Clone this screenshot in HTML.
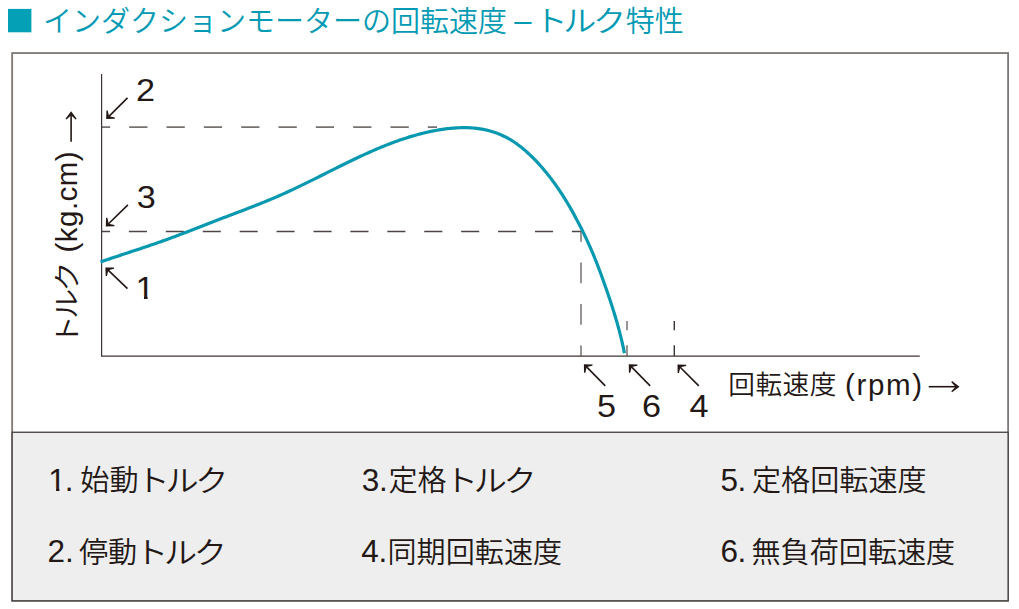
<!DOCTYPE html>
<html><head><meta charset="utf-8"><style>
html,body{margin:0;padding:0;background:#fff;}
body{width:1019px;height:609px;position:relative;overflow:hidden;}
svg{position:absolute;left:0;top:0;}
</style></head><body>
<svg width="1019" height="609" viewBox="0 0 1019 609">
<rect x="12.15" y="53.05" width="995.95" height="547.75" fill="#fff" stroke="#7d7876" stroke-width="1.8"/>
<rect x="12.15" y="432.25" width="995.95" height="168.55" fill="#eeeeee" stroke="#433d3b" stroke-width="1.3"/>
<line x1="101" y1="127.05" x2="437" y2="127.05" stroke="#77716f" stroke-width="1.8" stroke-dasharray="18.29 19.04" stroke-dashoffset="9.15"/>
<line x1="101" y1="231.5" x2="581" y2="231.5" stroke="#4d4543" stroke-width="1.3" stroke-dasharray="18.09 18.83" stroke-dashoffset="9.05"/>
<line x1="581" y1="231.5" x2="581" y2="356" stroke="#6e6866" stroke-width="1.4" stroke-dasharray="20.75 20.75" stroke-dashoffset="10.38"/>
<line x1="627" y1="321" x2="627" y2="330.3" stroke="#6e6866" stroke-width="1.4"/>
<line x1="627" y1="345.3" x2="627" y2="356" stroke="#6e6866" stroke-width="1.4"/>
<line x1="674.3" y1="321" x2="674.3" y2="330.3" stroke="#3a3432" stroke-width="1.4"/>
<line x1="674.3" y1="345.3" x2="674.3" y2="356" stroke="#3a3432" stroke-width="1.4"/>
<polyline points="101.6,74 101.6,356.2 919.8,356.2" fill="none" stroke="#3e3634" stroke-width="1.2"/>
<path d="M100.50 261.99 L102.12 261.42 L103.74 260.86 L105.36 260.30 L106.98 259.74 L108.61 259.19 L110.23 258.64 L111.86 258.09 L113.49 257.54 L115.11 256.99 L116.74 256.45 L118.37 255.91 L120.00 255.37 L121.63 254.83 L123.26 254.29 L124.89 253.75 L126.53 253.21 L128.16 252.68 L129.79 252.14 L131.42 251.60 L133.05 251.07 L134.68 250.53 L136.31 249.99 L137.95 249.45 L139.58 248.91 L141.21 248.37 L142.84 247.83 L144.46 247.28 L146.09 246.74 L147.72 246.19 L149.35 245.64 L150.97 245.09 L152.60 244.53 L154.22 243.97 L155.84 243.41 L157.46 242.84 L159.08 242.28 L160.70 241.70 L162.32 241.13 L163.93 240.55 L165.55 239.97 L167.16 239.38 L168.77 238.79 L170.38 238.20 L171.99 237.60 L173.60 237.01 L175.21 236.40 L176.81 235.80 L178.42 235.20 L180.02 234.59 L181.63 233.98 L183.23 233.37 L184.83 232.75 L186.43 232.14 L188.04 231.52 L189.64 230.91 L191.24 230.29 L192.84 229.67 L194.44 229.04 L196.04 228.42 L197.64 227.80 L199.24 227.18 L200.84 226.55 L202.44 225.93 L204.04 225.31 L205.64 224.68 L207.23 224.06 L208.83 223.44 L210.44 222.81 L212.04 222.19 L213.64 221.57 L215.24 220.95 L216.84 220.33 L218.44 219.71 L220.05 219.09 L221.65 218.48 L223.25 217.86 L224.86 217.25 L226.46 216.64 L228.07 216.03 L229.68 215.42 L231.28 214.80 L232.89 214.19 L234.49 213.58 L236.10 212.97 L237.71 212.36 L239.31 211.75 L240.92 211.14 L242.52 210.52 L244.13 209.91 L245.73 209.29 L247.33 208.67 L248.93 208.05 L250.54 207.43 L252.14 206.81 L253.74 206.18 L255.33 205.56 L256.93 204.93 L258.53 204.29 L260.12 203.66 L261.72 203.02 L263.31 202.38 L264.90 201.73 L266.49 201.08 L268.07 200.43 L269.66 199.77 L271.24 199.11 L272.82 198.45 L274.40 197.78 L275.98 197.10 L277.55 196.42 L279.12 195.74 L280.69 195.05 L282.26 194.35 L283.82 193.65 L285.38 192.95 L286.94 192.24 L288.50 191.52 L290.06 190.80 L291.61 190.08 L293.16 189.35 L294.71 188.62 L296.26 187.89 L297.81 187.15 L299.36 186.41 L300.90 185.66 L302.44 184.92 L303.99 184.17 L305.53 183.41 L307.07 182.66 L308.61 181.90 L310.14 181.14 L311.68 180.38 L313.22 179.61 L314.76 178.85 L316.29 178.08 L317.83 177.32 L319.36 176.55 L320.90 175.78 L322.43 175.01 L323.97 174.24 L325.50 173.46 L327.04 172.69 L328.58 171.92 L330.11 171.15 L331.65 170.38 L333.19 169.61 L334.72 168.84 L336.26 168.07 L337.80 167.30 L339.34 166.54 L340.88 165.77 L342.43 165.01 L343.97 164.25 L345.52 163.49 L347.06 162.73 L348.61 161.98 L350.16 161.23 L351.71 160.48 L353.26 159.73 L354.81 158.99 L356.37 158.25 L357.93 157.51 L359.48 156.78 L361.04 156.05 L362.61 155.33 L364.17 154.61 L365.73 153.90 L367.30 153.19 L368.87 152.48 L370.44 151.78 L372.01 151.09 L373.59 150.40 L375.17 149.72 L376.75 149.05 L378.33 148.38 L379.91 147.71 L381.50 147.06 L383.09 146.41 L384.68 145.77 L386.27 145.13 L387.87 144.51 L389.47 143.89 L391.07 143.28 L392.67 142.67 L394.28 142.08 L395.89 141.49 L397.50 140.91 L399.11 140.35 L400.73 139.79 L402.35 139.24 L403.97 138.70 L405.60 138.17 L407.23 137.65 L408.86 137.14 L410.50 136.64 L412.14 136.15 L413.78 135.67 L415.43 135.20 L417.08 134.75 L418.73 134.30 L420.39 133.87 L422.05 133.45 L423.71 133.04 L425.38 132.65 L427.05 132.26 L428.72 131.89 L430.40 131.53 L432.08 131.19 L433.77 130.86 L435.46 130.54 L437.15 130.23 L438.85 129.94 L440.55 129.67 L442.26 129.41 L443.97 129.16 L445.68 128.93 L447.40 128.71 L449.11 128.52 L450.83 128.34 L452.55 128.18 L454.28 128.04 L456.00 127.92 L457.72 127.82 L459.45 127.75 L461.17 127.70 L462.89 127.67 L464.61 127.66 L466.33 127.68 L468.05 127.72 L469.77 127.80 L471.48 127.89 L473.19 128.02 L474.90 128.18 L476.60 128.36 L478.30 128.58 L479.99 128.82 L481.68 129.10 L483.36 129.41 L485.04 129.75 L486.71 130.13 L488.37 130.54 L490.03 130.98 L491.68 131.46 L493.31 131.97 L494.94 132.51 L496.56 133.08 L498.16 133.69 L499.75 134.33 L501.33 135.00 L502.89 135.71 L504.44 136.44 L505.97 137.21 L507.49 138.01 L508.99 138.84 L510.47 139.70 L511.93 140.60 L513.37 141.52 L514.79 142.47 L516.20 143.44 L517.59 144.44 L518.96 145.47 L520.32 146.52 L521.66 147.59 L522.99 148.68 L524.30 149.79 L525.60 150.91 L526.89 152.06 L528.16 153.22 L529.41 154.39 L530.66 155.58 L531.89 156.77 L533.12 157.98 L534.33 159.20 L535.52 160.44 L536.71 161.68 L537.88 162.93 L539.05 164.20 L540.20 165.48 L541.34 166.76 L542.47 168.06 L543.59 169.36 L544.70 170.68 L545.79 172.00 L546.88 173.33 L547.95 174.67 L549.02 176.02 L550.07 177.38 L551.12 178.75 L552.15 180.12 L553.18 181.50 L554.19 182.89 L555.19 184.29 L556.19 185.69 L557.17 187.10 L558.15 188.52 L559.11 189.94 L560.07 191.37 L561.02 192.80 L561.96 194.24 L562.89 195.69 L563.81 197.14 L564.72 198.59 L565.62 200.05 L566.52 201.52 L567.40 202.98 L568.28 204.46 L569.15 205.93 L570.01 207.41 L570.87 208.90 L571.71 210.39 L572.55 211.88 L573.39 213.38 L574.21 214.88 L575.03 216.38 L575.84 217.89 L576.65 219.40 L577.45 220.91 L578.24 222.43 L579.03 223.95 L579.81 225.48 L580.59 227.01 L581.36 228.54 L582.12 230.08 L582.88 231.61 L583.64 233.16 L584.38 234.70 L585.13 236.25 L585.86 237.80 L586.59 239.35 L587.32 240.91 L588.04 242.47 L588.75 244.04 L589.45 245.60 L590.15 247.17 L590.84 248.74 L591.52 250.32 L592.20 251.90 L592.87 253.48 L593.53 255.06 L594.18 256.65 L594.83 258.24 L595.47 259.84 L596.10 261.43 L596.73 263.03 L597.35 264.63 L597.97 266.23 L598.58 267.84 L599.18 269.44 L599.79 271.05 L600.38 272.66 L600.98 274.27 L601.57 275.89 L602.15 277.50 L602.74 279.12 L603.32 280.73 L603.90 282.35 L604.47 283.97 L605.05 285.59 L605.62 287.21 L606.19 288.83 L606.75 290.45 L607.31 292.07 L607.87 293.70 L608.43 295.32 L608.98 296.95 L609.53 298.58 L610.07 300.21 L610.61 301.84 L611.15 303.47 L611.68 305.10 L612.21 306.74 L612.73 308.37 L613.24 310.01 L613.76 311.65 L614.26 313.29 L614.76 314.93 L615.26 316.58 L615.75 318.22 L616.23 319.87 L616.71 321.52 L617.18 323.17 L617.65 324.82 L618.11 326.47 L618.56 328.13 L619.01 329.78 L619.44 331.44 L619.88 333.10 L620.30 334.77 L620.72 336.43 L621.13 338.10 L621.53 339.77 L621.92 341.44 L622.31 343.11 L622.69 344.78 L623.06 346.46 L623.42 348.14 L623.77 349.82 L624.11 351.50 L624.45 353.19" fill="none" stroke="#0899b1" stroke-width="3.2"/>
<line x1="127.5" y1="97.9" x2="108.66" y2="116.56" stroke="#231815" stroke-width="1.6"/><path d="M106.17 119.02 L114.82 118.86 L114.76 117.56 L109.02 116.21 L107.72 110.45 L106.42 110.38Z" fill="#231815"/>
<line x1="127.9" y1="204.9" x2="108.28" y2="223.98" stroke="#231815" stroke-width="1.6"/><path d="M105.77 226.42 L114.42 226.34 L114.37 225.04 L108.64 223.63 L107.39 217.86 L106.10 217.77Z" fill="#231815"/>
<line x1="127.5" y1="288.7" x2="107.89" y2="269.81" stroke="#231815" stroke-width="1.6"/><path d="M105.37 267.38 L105.73 276.03 L107.03 275.93 L108.25 270.16 L113.97 268.72 L114.02 267.43Z" fill="#231815"/>
<line x1="605.3" y1="385.9" x2="586.34" y2="366.67" stroke="#231815" stroke-width="1.6"/><path d="M583.88 364.17 L584.02 372.82 L585.32 372.76 L586.69 367.02 L592.45 365.74 L592.52 364.44Z" fill="#231815"/>
<line x1="650.2" y1="385.9" x2="631.24" y2="366.67" stroke="#231815" stroke-width="1.6"/><path d="M628.78 364.17 L628.92 372.82 L630.22 372.76 L631.59 367.02 L637.35 365.74 L637.42 364.44Z" fill="#231815"/>
<line x1="698.8" y1="385.9" x2="679.95" y2="366.96" stroke="#231815" stroke-width="1.6"/><path d="M677.48 364.47 L677.66 373.12 L678.96 373.06 L680.30 367.31 L686.05 366.00 L686.12 364.70Z" fill="#231815"/>
<line x1="928.7" y1="386.7" x2="956.00" y2="386.70" stroke="#231815" stroke-width="1.6"/><path d="M959.50 386.70 L952.06 381.12 L951.32 382.18 L955.50 386.70 L951.32 391.22 L952.06 392.28Z" fill="#231815"/>
<line x1="71.1" y1="141.7" x2="71.10" y2="114.70" stroke="#231815" stroke-width="1.6"/><path d="M71.10 111.20 L65.52 118.64 L66.58 119.38 L71.10 115.20 L75.62 119.38 L76.68 118.64Z" fill="#231815"/>
<text x="0" y="0" font-family="'Liberation Sans',Arial,sans-serif" font-size="32" fill="#231815" transform="translate(136,101.2) scale(1.07,1)">2</text>
<text x="0" y="0" font-family="'Liberation Sans',Arial,sans-serif" font-size="32" fill="#231815" transform="translate(136.7,208.3) scale(1.07,1)">3</text>
<clipPath id="c1_1"><path d="M125.5 254 H215.5 V314 H125.5 Z M135.82 295.70 H143.95 V300.50 H135.82 Z M147.59 295.70 H154.55 V300.50 H147.59 Z " clip-rule="evenodd"/></clipPath><g clip-path="url(#c1_1)"><text x="0" y="0" font-family="'Liberation Sans',Arial,sans-serif" font-size="32" fill="#231815" transform="translate(135.5,299) scale(1.07,1)">1</text></g>
<text x="0" y="0" font-family="'Liberation Sans',Arial,sans-serif" font-size="32" fill="#231815" transform="translate(597,416.5) scale(1.07,1)">5</text>
<text x="0" y="0" font-family="'Liberation Sans',Arial,sans-serif" font-size="32" fill="#231815" transform="translate(642,416.5) scale(1.07,1)">6</text>
<text x="0" y="0" font-family="'Liberation Sans',Arial,sans-serif" font-size="32" fill="#231815" transform="translate(689.5,416.5) scale(1.07,1)">4</text>
<text x="728.2" y="394" font-family="'Liberation Sans','Noto Sans CJK JP',sans-serif" font-size="26.7" fill="#231815" font-weight="350" textLength="108.3" lengthAdjust="spacing" >回転速度</text>
<text x="845" y="395" font-family="'Liberation Sans',Arial,sans-serif" font-size="29.5" fill="#231815" textLength="77" lengthAdjust="spacing" >(rpm)</text>
<g transform="translate(77,345) rotate(-90)"><text x="0" y="0" font-family="'Liberation Sans','Noto Sans CJK JP',sans-serif" font-size="26.7" font-weight="350" fill="#231815" transform="translate(-0.60,0) scale(1.14,1.03)">ト</text><text x="0" y="0" font-family="'Liberation Sans','Noto Sans CJK JP',sans-serif" font-size="26.7" font-weight="350" fill="#231815" transform="translate(26.01,0) scale(1.14,1.03)">ル</text><text x="0" y="0" font-family="'Liberation Sans','Noto Sans CJK JP',sans-serif" font-size="26.7" font-weight="350" fill="#231815" transform="translate(53.35,0) scale(1.14,1.03)">ク</text><text x="92.6" y="0" font-family="'Liberation Sans',Arial,sans-serif" font-size="29.5" fill="#231815" textLength="101" lengthAdjust="spacing" >(kg.cm)</text></g>
<clipPath id="c1_2"><path d="M38.3 445.7 H128.3 V505.7 H38.3 Z M48.60 487.45 H56.08 V492.20 H48.60 Z M59.42 487.45 H65.82 V492.20 H59.42 Z " clip-rule="evenodd"/></clipPath><g clip-path="url(#c1_2)"><text x="0" y="0" font-family="'Liberation Sans',Arial,sans-serif" font-size="31.5" fill="#231815" transform="translate(48.3,490.7) scale(1.0,1)">1<tspan dx="-1.2">.</tspan></text></g>
<text x="80.3" y="491.2" font-family="'Liberation Sans','Noto Sans CJK JP',sans-serif" font-size="29.1" fill="#231815" font-weight="350" >始動</text>
<text x="0" y="0" font-family="'Liberation Sans','Noto Sans CJK JP',sans-serif" font-size="29.1" font-weight="350" fill="#231815" transform="translate(136.50,491.2) scale(1.14,1.02)">ト</text><text x="0" y="0" font-family="'Liberation Sans','Noto Sans CJK JP',sans-serif" font-size="29.1" font-weight="350" fill="#231815" transform="translate(165.50,491.2) scale(1.14,1.02)">ル</text><text x="0" y="0" font-family="'Liberation Sans','Noto Sans CJK JP',sans-serif" font-size="29.1" font-weight="350" fill="#231815" transform="translate(195.30,491.2) scale(1.14,1.02)">ク</text>
<text x="0" y="0" font-family="'Liberation Sans',Arial,sans-serif" font-size="31.5" fill="#231815" transform="translate(361.8,490.7) scale(1.0,1)">3<tspan dx="-0.4">.</tspan></text>
<text x="388.5" y="491.2" font-family="'Liberation Sans','Noto Sans CJK JP',sans-serif" font-size="29.1" fill="#231815" font-weight="350" >定格</text>
<text x="0" y="0" font-family="'Liberation Sans','Noto Sans CJK JP',sans-serif" font-size="29.1" font-weight="350" fill="#231815" transform="translate(444.70,491.2) scale(1.14,1.02)">ト</text><text x="0" y="0" font-family="'Liberation Sans','Noto Sans CJK JP',sans-serif" font-size="29.1" font-weight="350" fill="#231815" transform="translate(473.70,491.2) scale(1.14,1.02)">ル</text><text x="0" y="0" font-family="'Liberation Sans','Noto Sans CJK JP',sans-serif" font-size="29.1" font-weight="350" fill="#231815" transform="translate(503.50,491.2) scale(1.14,1.02)">ク</text>
<text x="0" y="0" font-family="'Liberation Sans',Arial,sans-serif" font-size="31.5" fill="#231815" transform="translate(720.5,490.7) scale(1.0,1)">5<tspan dx="-0.5">.</tspan></text>
<text x="752" y="491.2" font-family="'Liberation Sans','Noto Sans CJK JP',sans-serif" font-size="29.1" fill="#231815" font-weight="350" >定格回転速度</text>
<text x="0" y="0" font-family="'Liberation Sans',Arial,sans-serif" font-size="31.5" fill="#231815" transform="translate(47.4,562.3) scale(1.0,1)">2.</text>
<text x="79" y="562.8" font-family="'Liberation Sans','Noto Sans CJK JP',sans-serif" font-size="29.1" fill="#231815" font-weight="350" >停動</text>
<text x="0" y="0" font-family="'Liberation Sans','Noto Sans CJK JP',sans-serif" font-size="29.1" font-weight="350" fill="#231815" transform="translate(134.90,562.8) scale(1.14,1.02)">ト</text><text x="0" y="0" font-family="'Liberation Sans','Noto Sans CJK JP',sans-serif" font-size="29.1" font-weight="350" fill="#231815" transform="translate(163.90,562.8) scale(1.14,1.02)">ル</text><text x="0" y="0" font-family="'Liberation Sans','Noto Sans CJK JP',sans-serif" font-size="29.1" font-weight="350" fill="#231815" transform="translate(193.70,562.8) scale(1.14,1.02)">ク</text>
<text x="0" y="0" font-family="'Liberation Sans',Arial,sans-serif" font-size="31.5" fill="#231815" transform="translate(361.2,562.3) scale(1.0,1)">4<tspan dx="-0.3">.</tspan></text>
<text x="387.5" y="562.8" font-family="'Liberation Sans','Noto Sans CJK JP',sans-serif" font-size="29.1" fill="#231815" font-weight="350" >同期回転速度</text>
<text x="0" y="0" font-family="'Liberation Sans',Arial,sans-serif" font-size="31.5" fill="#231815" transform="translate(720.5,562.3) scale(1.0,1)">6<tspan dx="-0.5">.</tspan></text>
<text x="751.5" y="562.8" font-family="'Liberation Sans','Noto Sans CJK JP',sans-serif" font-size="29.1" fill="#231815" font-weight="350" >無負荷回転速度</text>
<rect x="8" y="8.9" width="23.4" height="23.4" fill="#03a0b6"/>
<text x="43" y="32" font-family="'Liberation Sans','Noto Sans CJK JP',sans-serif" font-size="29" fill="#039ab4" font-weight="350" >インダクションモーターの回転速度</text>
<text x="514.3" y="31" font-family="'Liberation Sans',Arial,sans-serif" font-size="31" fill="#039ab4" >–</text>
<text x="0" y="0" font-family="'Liberation Sans','Noto Sans CJK JP',sans-serif" font-size="29" font-weight="350" fill="#039ab4" transform="translate(534.40,32) scale(1.14,1.0)">ト</text><text x="0" y="0" font-family="'Liberation Sans','Noto Sans CJK JP',sans-serif" font-size="29" font-weight="350" fill="#039ab4" transform="translate(563.30,32) scale(1.14,1.0)">ル</text><text x="0" y="0" font-family="'Liberation Sans','Noto Sans CJK JP',sans-serif" font-size="29" font-weight="350" fill="#039ab4" transform="translate(593.00,32) scale(1.14,1.0)">ク</text>
<text x="625.7" y="32" font-family="'Liberation Sans','Noto Sans CJK JP',sans-serif" font-size="29" fill="#039ab4" font-weight="350" >特性</text>
</svg>
</body></html>
